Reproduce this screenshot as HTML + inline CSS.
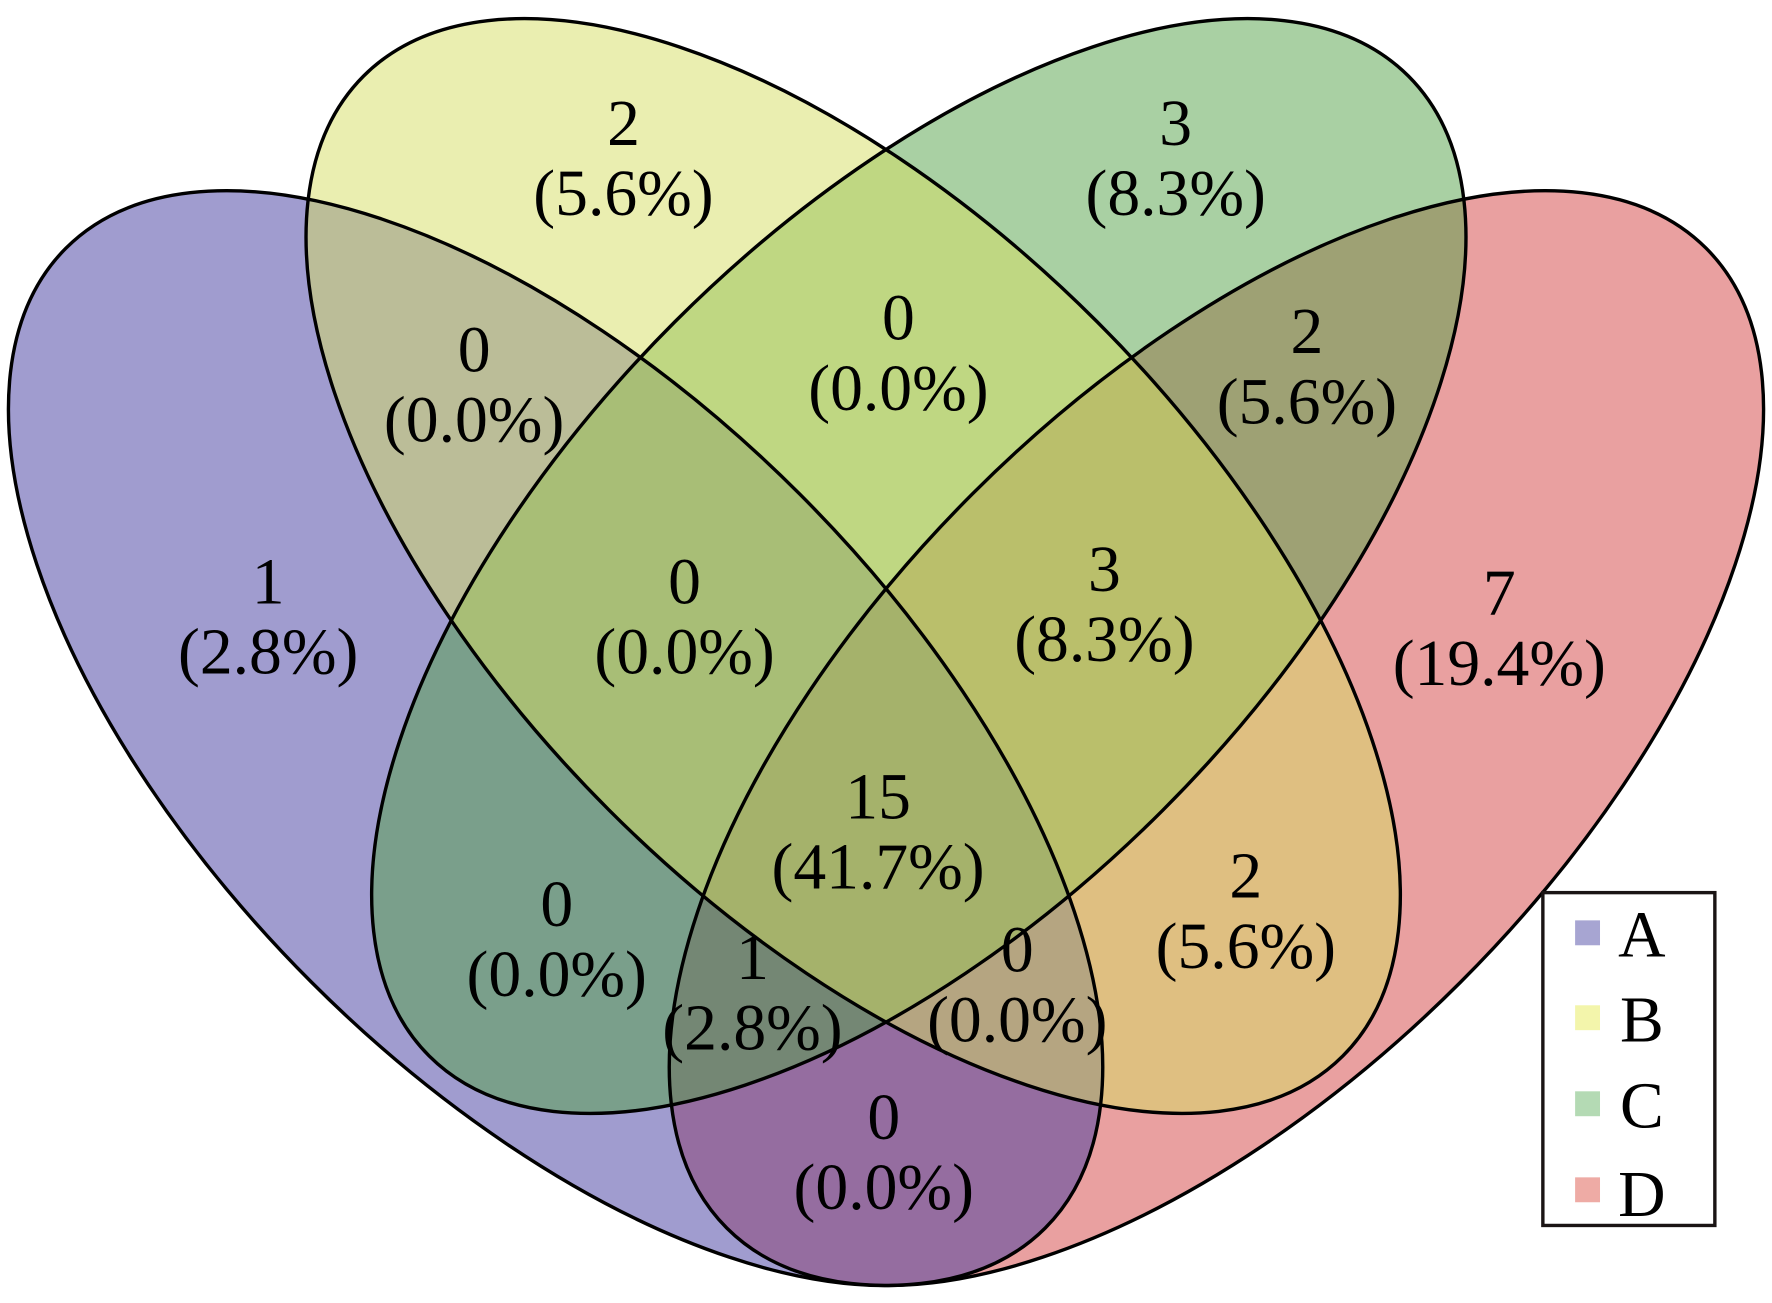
<!DOCTYPE html>
<html><head><meta charset="utf-8"><style>
html,body{margin:0;padding:0;background:#fff;overflow:hidden;width:1772px;height:1303px;}
svg{display:block;}
text{font-family:"Liberation Serif",serif;font-size:58px;fill:#000;text-anchor:middle;}
</style></head><body>
<svg width="1772" height="1303" viewBox="0 0 1566 1151" preserveAspectRatio="none" xmlns="http://www.w3.org/2000/svg">
<rect width="1566" height="1151" fill="#fff"/>
<g fill-opacity="0.5">
<ellipse cx="1075" cy="652" rx="612" ry="305" transform="rotate(-45 1075 652)" fill="#d34141"/>
<ellipse cx="491" cy="652" rx="612" ry="305" transform="rotate(45 491 652)" fill="#4139a0"/>
<ellipse cx="812" cy="500" rx="612" ry="305" transform="rotate(-45 812 500)" fill="#53a147"/>
<ellipse cx="754" cy="500" rx="612" ry="305" transform="rotate(45 754 500)" fill="#d5dd61"/>
</g>
<g fill="none" stroke="#000" stroke-width="3">
<ellipse cx="491" cy="652" rx="612" ry="305" transform="rotate(45 491 652)"/>
<ellipse cx="754" cy="500" rx="612" ry="305" transform="rotate(45 754 500)"/>
<ellipse cx="812" cy="500" rx="612" ry="305" transform="rotate(-45 812 500)"/>
<ellipse cx="1075" cy="652" rx="612" ry="305" transform="rotate(-45 1075 652)"/>
</g>
<text x="237" y="533">1</text><text x="237" y="595">(2.8%)</text>
<text x="551" y="128">2</text><text x="551" y="190">(5.6%)</text>
<text x="1039" y="128">3</text><text x="1039" y="190">(8.3%)</text>
<text x="1325" y="543">7</text><text x="1325" y="605">(19.4%)</text>
<text x="419" y="328">0</text><text x="419" y="390">(0.0%)</text>
<text x="794" y="300">0</text><text x="794" y="362">(0.0%)</text>
<text x="1155" y="312">2</text><text x="1155" y="374">(5.6%)</text>
<text x="605" y="533">0</text><text x="605" y="595">(0.0%)</text>
<text x="976" y="522">3</text><text x="976" y="584">(8.3%)</text>
<text x="776" y="723">15</text><text x="776" y="785">(41.7%)</text>
<text x="492" y="818">0</text><text x="492" y="880">(0.0%)</text>
<text x="1101" y="793">2</text><text x="1101" y="855">(5.6%)</text>
<text x="665" y="865">1</text><text x="665" y="927">(2.8%)</text>
<text x="899" y="858">0</text><text x="899" y="920">(0.0%)</text>
<text x="781" y="1006">0</text><text x="781" y="1068">(0.0%)</text>
<rect x="1363.5" y="788.5" width="152" height="294" fill="#fff" stroke="#1a1414" stroke-width="3"/>
<rect x="1392" y="813" width="22" height="22" fill="#a7a5d2"/>
<rect x="1392" y="888" width="22" height="22" fill="#f3f5ab"/>
<rect x="1392" y="964" width="22" height="22" fill="#b4dab4"/>
<rect x="1392" y="1040" width="22" height="22" fill="#eeaba5"/>
<text x="1451" y="845" font-size="56">A</text>
<text x="1451" y="920" font-size="56">B</text>
<text x="1451" y="996" font-size="56">C</text>
<text x="1451" y="1074" font-size="56">D</text>
</svg>
</body></html>
